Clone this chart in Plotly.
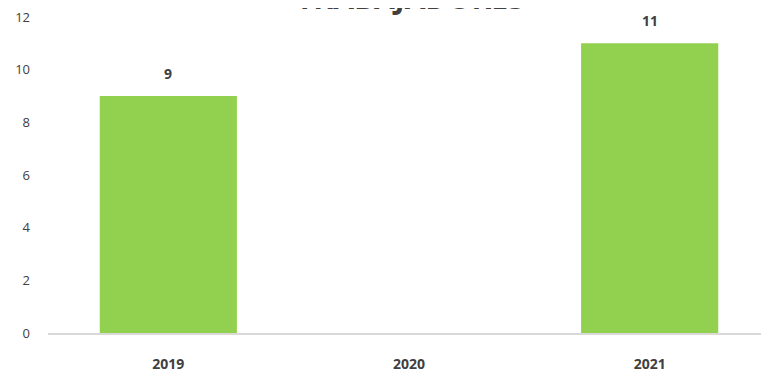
import plotly.graph_objects as go

years = ["2019", "2020", "2021"]
workers = [9, None, 11]
labels = ["9", "", "11"]
title_text = "TRABAJADORES"

fig = go.Figure(go.Bar(
    x=years, y=workers,
    marker=dict(color="#92D050", line=dict(width=0)),
    width=0.57,
))
for i, (y, t) in enumerate(zip(workers, labels)):
    if y is None:
        continue
    fig.add_annotation(x=i, y=y, xref="x", yref="y", text="<b>" + t + "</b>",
                       showarrow=False, yanchor="middle", yshift=23,
                       font=dict(family="Open Sans", size=14, color="#404040"))
fig.add_annotation(x=0.5, xref="paper", y=1, yref="paper", yanchor="bottom",
                   xanchor="center", xshift=1, yshift=-3, showarrow=False,
                   text="<b>" + title_text + "</b>",
                   font=dict(family="Open Sans", size=30, color="#404040"))
fig.update_layout(
    width=769, height=372,
    margin=dict(l=40, r=7, t=9, b=47, autoexpand=False),
    paper_bgcolor="white", plot_bgcolor="white",
    showlegend=False,
    xaxis=dict(type="category", range=[-0.5, 2.5], showline=True, linecolor="#D9D9D9",
               linewidth=1.5, ticks="", ticklabelstandoff=17,
               tickfont=dict(family="Open Sans", size=14, color="#404040", weight="bold")),
    yaxis=dict(range=[0, 12], dtick=2, showgrid=False, zeroline=False, showline=False,
               ticks="", ticklabelstandoff=17, ticklabeloverflow="allow",
               tickfont=dict(family="Open Sans", size=13, color="#404040")),
)
fig.write_html("out.html")
